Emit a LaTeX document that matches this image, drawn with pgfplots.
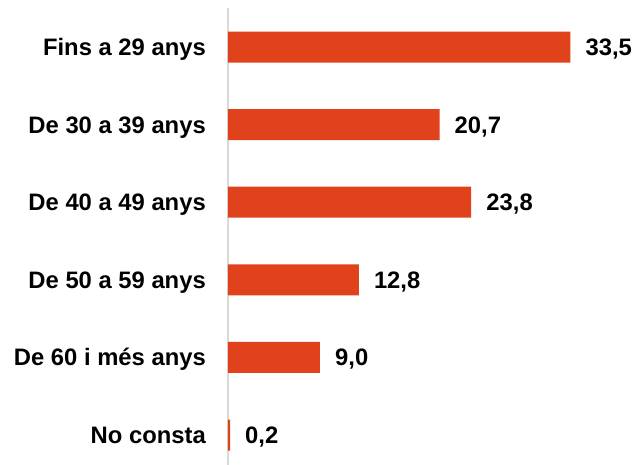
\documentclass[border=0pt]{standalone}
\usepackage{pgfplots}
\pgfplotsset{compat=1.18}
\usepackage{fontspec}
\setmainfont{Liberation Sans}
\definecolor{barc}{RGB}{224,66,27}
\definecolor{axc}{RGB}{217,217,217}
\begin{document}
\begin{tikzpicture}[x=1pt,y=1pt]
\begin{axis}[
  at={(0pt,-8.8pt)}, anchor=south west,
  scale only axis, width=408.8pt, height=465.6pt,
  xbar, bar width=31pt,
  xmin=0, xmax=40, ymin=-0.5, ymax=5.5, y dir=reverse,
  axis x line=none, axis y line*=left,
  axis line style={axc, line width=1.5pt},
  ytick={0,1,2,3,4,5},
  yticklabels={Fins a 29 anys, De 30 a 39 anys, De 40 a 49 anys, De 50 a 59 anys, De 60 i més anys, No consta},
  major tick length=0pt,
  yticklabel style={font=\fontsize{23.8}{28}\selectfont\bfseries, inner sep=0pt, text height=17pt, text depth=0pt, anchor=east, xshift=-22pt},
  nodes near coords={\pgfmathprintnumber[fixed, fixed zerofill, precision=1, use comma, assume math mode=true]{\pgfplotspointmeta}},
  nodes near coords style={font=\fontsize{23.8}{28}\selectfont\bfseries, inner sep=0pt, text height=17pt, text depth=0pt, anchor=west, xshift=15pt, black},
  point meta=explicit,
  clip=false,
]
\addplot[fill=barc, draw=none] coordinates {
  (33.5,0) [33.5]
  (20.7,1) [20.7]
  (23.8,2) [23.8]
  (12.8,3) [12.8]
  (9.0,4) [9.0]
  (0.2,5) [0.2]
};
\end{axis}
\pgfresetboundingbox
\useasboundingbox (-228pt,0pt) rectangle (410pt,465pt);
\end{tikzpicture}
\end{document}
